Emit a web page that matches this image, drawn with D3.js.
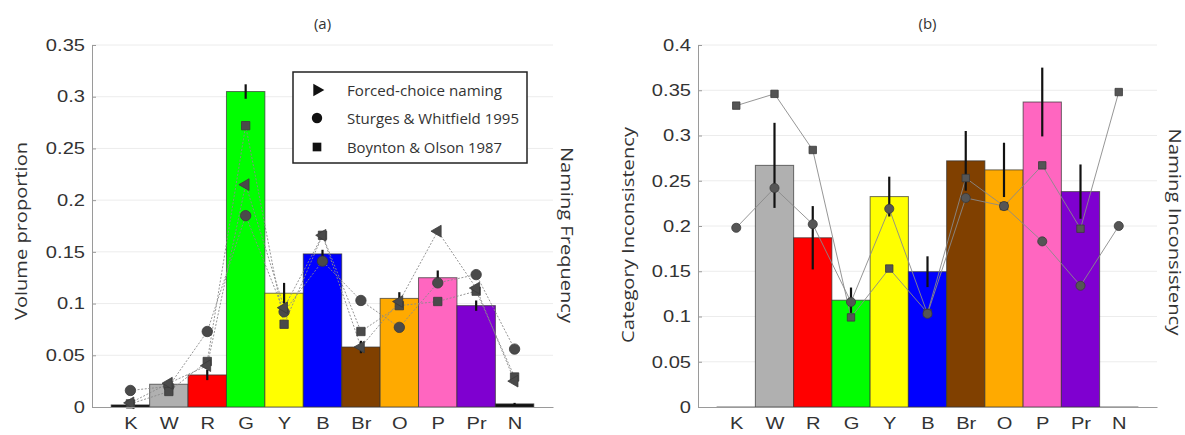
<!DOCTYPE html>
<html>
<head>
<meta charset="utf-8">
<script src="https://cdn.jsdelivr.net/npm/d3@7"></script>
<style>
  body { margin: 0; background: #fff; }
  svg { display: block; }
</style>
</head>
<body>
<svg id="fig" width="1185" height="435"></svg>
<script>
// Colour categories along the x axis
const categories = ["K", "W", "R", "G", "Y", "B", "Br", "O", "P", "Pr", "N"];
const barColors = ["#111111", "#b0b0b0", "#ff0000", "#00ff00", "#ffff00", "#0000ff",
                   "#804000", "#ffaa00", "#ff66c0", "#7f00d0", "#111111"];

// Panel (a): volume proportion of each category, with naming frequencies
const volumeProportion = [0.002, 0.022, 0.031, 0.305, 0.110, 0.148, 0.058, 0.105, 0.125, 0.098, 0.003];
const volumeError      = [0.001, 0.002, 0.005, 0.007, 0.010, 0.004, 0.006, 0.006, 0.007, 0.005, 0.001];
const forcedChoice     = [0.004, 0.023, 0.040, 0.215, 0.096, 0.166, 0.058, 0.102, 0.170, 0.115, 0.025];
const sturgesWhitfield = [0.016, 0.020, 0.073, 0.185, 0.092, 0.141, 0.103, 0.077, 0.120, 0.128, 0.056];
const boyntonOlson     = [0.003, 0.015, 0.044, 0.272, 0.080, 0.166, 0.073, 0.098, 0.102, 0.112, 0.029];
const ticksA = [0, 0.05, 0.1, 0.15, 0.2, 0.25, 0.3, 0.35];

// Panel (b): category inconsistency, with naming inconsistency
const categoryInconsistency = [0, 0.267, 0.187, 0.118, 0.2325, 0.1495, 0.272, 0.262, 0.337, 0.238, 0];
const categoryError         = [0, 0.047, 0.035, 0.014, 0.022, 0.017, 0.033, 0.030, 0.038, 0.030, 0];
const namingIncBO = [0.333, 0.346, 0.284, 0.099, 0.153, 0.104, 0.253, 0.222, 0.267, 0.197, 0.348];
const namingIncSW = [0.198, 0.242, 0.202, 0.116, 0.219, 0.103, 0.231, 0.222, 0.183, 0.134, 0.200];
const ticksB = [0, 0.05, 0.1, 0.15, 0.2, 0.25, 0.3, 0.35, 0.4];

const legendLabels = ["Forced-choice naming", "Sturges & Whitfield 1995", "Boynton & Olson 1987"];

const svg = d3.select("#fig");
const TICK_FONT = "'Liberation Sans', Arial, sans-serif";
const LABEL_FONT = "'Open Sans', 'Noto Sans', sans-serif";
const STRETCH = 1.22;
const fmt = d => String(+d.toFixed(2));

function drawPanel(cfg) {
  const g = svg.append("g");
  const x = d3.scaleLinear().domain([0, 12]).range([cfg.x0, cfg.x1]);
  const y = d3.scaleLinear().domain([0, cfg.ymax]).range([407, 45]);
  const bw = x(1) - x(0);

  // faint horizontal grid
  g.append("g").selectAll("line").data(cfg.ticks.filter(t => t > 0)).join("line")
    .attr("x1", cfg.x0).attr("x2", cfg.x1)
    .attr("y1", d => y(d)).attr("y2", d => y(d))
    .attr("stroke", "#ececec").attr("stroke-width", 1);

  // bars
  g.append("g").selectAll("rect").data(cfg.bars).join("rect")
    .attr("x", (d, i) => x(i + 1) - bw / 2)
    .attr("width", bw)
    .attr("y", d => y(d))
    .attr("height", d => Math.max(0.5, y(0) - y(d)))
    .attr("fill", (d, i) => barColors[i])
    .attr("stroke", "#333").attr("stroke-opacity", 0.7).attr("stroke-width", 1);

  // connecting lines for each naming series
  const line = d3.line().x((d, i) => x(i + 1)).y(d => y(d));
  cfg.series.forEach(s => {
    g.append("path").datum(s.values)
      .attr("d", line).attr("fill", "none")
      .attr("stroke", "#8a8a8a").attr("stroke-width", 0.9)
      .attr("stroke-dasharray", cfg.dash || null);
  });

  // error bars
  g.append("g").selectAll("line").data(cfg.bars).join("line")
    .attr("x1", (d, i) => x(i + 1)).attr("x2", (d, i) => x(i + 1))
    .attr("y1", (d, i) => y(d - cfg.err[i])).attr("y2", (d, i) => y(d + cfg.err[i]))
    .attr("stroke", "#111").attr("stroke-width", 2.2)
    .attr("display", (d, i) => cfg.err[i] > 0 ? null : "none");

  // markers
  cfg.series.forEach(s => {
    g.append("g").selectAll("path").data(s.values).join("path")
      .attr("transform", (d, i) => `translate(${x(i + 1)},${y(d)}) rotate(${s.rot || 0})`)
      .attr("d", d3.symbol(s.type, s.size)())
      .attr("fill", s.fill).attr("stroke", "#3a3a3a").attr("stroke-width", 0.8);
  });

  // y axis
  const ya = g.append("g").attr("transform", `translate(${cfg.x0},0)`)
    .call(d3.axisLeft(y).tickValues(cfg.ticks).tickFormat(fmt).tickSize(-4).tickSizeOuter(0).tickPadding(8));
  ya.select(".domain").attr("stroke", "#9a9a9a");
  ya.selectAll(".tick line").attr("stroke", "#9a9a9a");
  ya.selectAll(".tick text")
    .attr("x", -7 / STRETCH).attr("transform", `scale(${STRETCH},1)`)
    .attr("fill", "#333").style("font-family", TICK_FONT).style("font-size", "16.5px");

  // x axis with category names
  const xa = g.append("g").attr("transform", "translate(0,407)")
    .call(d3.axisBottom(x).tickValues(d3.range(1, 12)).tickFormat(i => categories[i - 1])
      .tickSize(0).tickSizeOuter(0).tickPadding(10));
  xa.select(".domain").attr("stroke", "#9a9a9a");
  xa.selectAll(".tick text")
    .attr("transform", `scale(${STRETCH},1)`)
    .attr("fill", "#333").style("font-family", TICK_FONT).style("font-size", "16.5px");

  // titles and axis names
  g.append("text").attr("x", (cfg.x0 + cfg.x1) / 2).attr("y", 29)
    .attr("text-anchor", "middle").attr("fill", "#333")
    .style("font-family", LABEL_FONT).style("font-size", "15px").text(cfg.title);

  const vlabel = (xc, yc, rot, text, len) => {
    g.append("text").attr("transform", `translate(${xc},${yc}) rotate(${rot})`)
      .attr("text-anchor", "middle").attr("dominant-baseline", "central")
      .attr("textLength", len).attr("lengthAdjust", "spacingAndGlyphs")
      .attr("fill", "#333").style("font-family", LABEL_FONT).style("font-size", "16px")
      .text(text);
  };
  vlabel(cfg.leftLabel.x, cfg.leftLabel.y, -90, cfg.leftLabel.text, cfg.leftLabel.len);
  vlabel(cfg.rightLabel.x, cfg.rightLabel.y, 90, cfg.rightLabel.text, cfg.rightLabel.len);
  return g;
}

const tri = d3.symbolTriangle;
const gA = drawPanel({
  x0: 92, x1: 553, ymax: 0.35, ticks: ticksA, title: "(a)",
  bars: volumeProportion, err: volumeError, dash: "2,1.6",
  series: [
    { values: sturgesWhitfield, type: d3.symbolCircle, size: 85, fill: "#4a4a4a" },
    { values: boyntonOlson, type: d3.symbolSquare, size: 70, fill: "#4a4a4a" },
    { values: forcedChoice, type: tri, size: 60, fill: "#4a4a4a", rot: -90 }
  ],
  leftLabel: { x: 21, y: 231, text: "Volume proportion", len: 178 },
  rightLabel: { x: 567, y: 235, text: "Naming Frequency", len: 176 }
});

// legend for panel (a)
const lg = gA.append("g");
lg.append("rect").attr("x", 293).attr("y", 72).attr("width", 234).attr("height", 91)
  .attr("fill", "#fff").attr("stroke", "#222").attr("stroke-width", 1.5);
const legendSymbols = [
  { type: tri, size: 70, rot: 90 },
  { type: d3.symbolCircle, size: 85, rot: 0 },
  { type: d3.symbolSquare, size: 75, rot: 0 }
];
const legendRows = [90, 118, 147];
const legendLengths = [155, 172, 155];
legendLabels.forEach((lab, i) => {
  lg.append("path")
    .attr("transform", `translate(317,${legendRows[i]}) rotate(${legendSymbols[i].rot})`)
    .attr("d", d3.symbol(legendSymbols[i].type, legendSymbols[i].size)())
    .attr("fill", "#111");
  lg.append("text").attr("x", 347).attr("y", legendRows[i])
    .attr("dominant-baseline", "central").attr("fill", "#333")
    .attr("textLength", legendLengths[i]).attr("lengthAdjust", "spacingAndGlyphs")
    .style("font-family", LABEL_FONT).style("font-size", "14px")
    .text(lab);
});

drawPanel({
  x0: 698, x1: 1157, ymax: 0.4, ticks: ticksB, title: "(b)",
  bars: categoryInconsistency, err: categoryError, dash: null,
  series: [
    { values: namingIncBO, type: d3.symbolSquare, size: 55, fill: "#555" },
    { values: namingIncSW, type: d3.symbolCircle, size: 65, fill: "#555" }
  ],
  leftLabel: { x: 628, y: 235, text: "Category Inconsistency", len: 216 },
  rightLabel: { x: 1175, y: 232, text: "Naming Inconsistency", len: 207 }
});
</script>
</body>
</html>
